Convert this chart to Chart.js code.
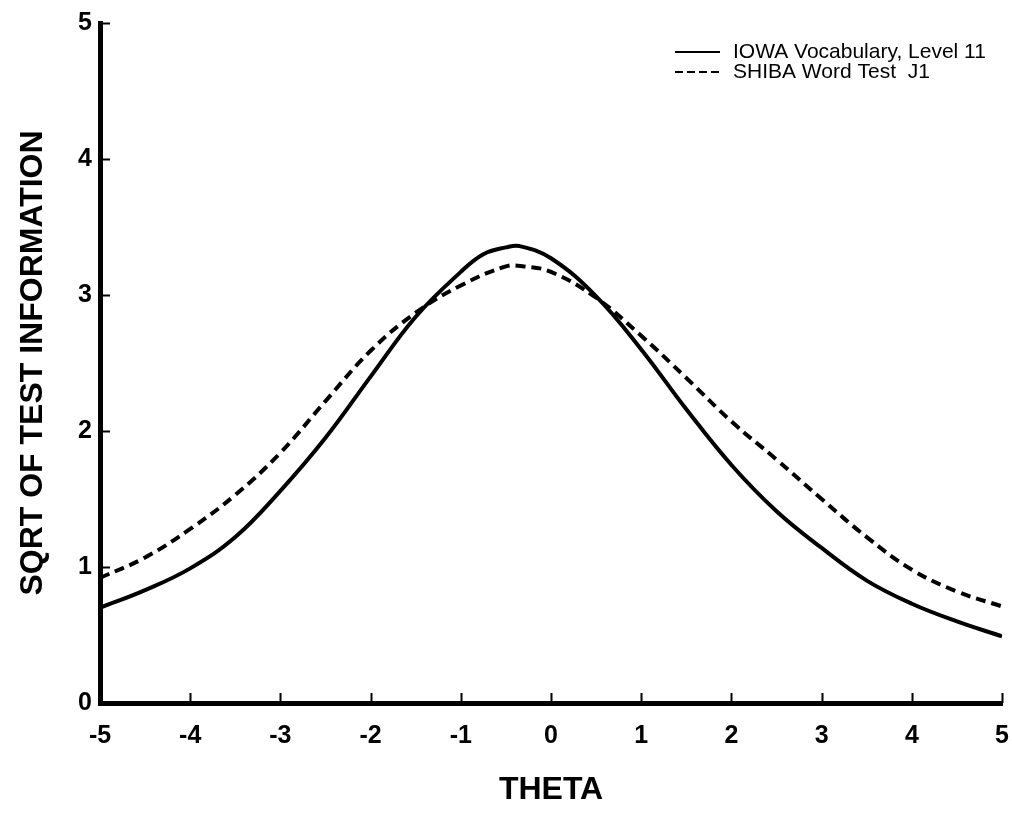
<!DOCTYPE html>
<html>
<head>
<meta charset="utf-8">
<title>Test information</title>
<script src="https://cdn.jsdelivr.net/npm/chart.js@4.4.1/dist/chart.umd.min.js"></script>
<style>
  html, body { margin: 0; padding: 0; background: #fff; }
  #wrap { width: 1012px; height: 815px; }
</style>
</head>
<body>
<div id="wrap"><canvas id="c" width="1012" height="815"></canvas></div>
<script>
// Ability scale (theta) values at which the curves are sampled
const thetaIowa = [-5, -4.5, -4, -3.5, -3, -2.5, -2, -1.5, -1, -0.75, -0.5, -0.35, 0, 0.5, 1, 1.5, 2, 2.5, 3, 3.5, 4, 4.5, 5];
const iowaInfo  = [0.70, 0.83, 0.99, 1.22, 1.56, 1.95, 2.40, 2.84, 3.17, 3.30, 3.35, 3.36, 3.27, 2.99, 2.60, 2.16, 1.75, 1.41, 1.14, 0.90, 0.73, 0.60, 0.49];

const thetaShiba = [-5, -4.5, -4, -3.5, -3, -2.5, -2, -1.5, -1, -0.5, -0.3, 0, 0.5, 1, 1.5, 2, 2.5, 3, 3.5, 4, 4.5, 5];
const shibaInfo  = [0.92, 1.07, 1.28, 1.53, 1.84, 2.22, 2.59, 2.87, 3.07, 3.21, 3.21, 3.17, 2.98, 2.70, 2.39, 2.07, 1.79, 1.50, 1.22, 0.98, 0.82, 0.71];

// Axis ranges and tick values
const xTicks = [-5, -4, -3, -2, -1, 0, 1, 2, 3, 4, 5];
const yTicks = [0, 1, 2, 3, 4, 5];

const seriesNames = ['IOWA Vocabulary, Level 11', 'SHIBA Word Test  J1'];
const xTitle = 'THETA';
const yTitle = 'SQRT OF TEST INFORMATION';

const toPoints = (xs, ys) => xs.map((x, i) => ({ x: x, y: ys[i] }));

// Short tick marks pointing into the plot from both axes
const innerTicks = {
  id: 'innerTicks',
  afterDatasetsDraw(chart) {
    const { ctx, chartArea, scales } = chart;
    ctx.save();
    ctx.strokeStyle = '#000';
    ctx.lineWidth = 2;
    ctx.beginPath();
    xTicks.forEach(v => {
      if (v === xTicks[0]) return;
      const px = Math.round(scales.x.getPixelForValue(v)) + 0.5;
      ctx.moveTo(px, chartArea.bottom);
      ctx.lineTo(px, chartArea.bottom - 10);
    });
    yTicks.forEach(v => {
      if (v === yTicks[0]) return;
      const py = Math.round(scales.y.getPixelForValue(v)) + 0.5;
      ctx.moveTo(chartArea.left, py);
      ctx.lineTo(chartArea.left + 10, py);
    });
    ctx.stroke();
    ctx.restore();
  }
};

// Legend in the upper right corner with line samples
const cornerLegend = {
  id: 'cornerLegend',
  afterDraw(chart) {
    const { ctx } = chart;
    const x0 = 675, x1 = 720, tx = 733;
    const rows = [52, 72];
    ctx.save();
    ctx.fillStyle = '#000';
    ctx.strokeStyle = '#000';
    ctx.font = '21px "Liberation Sans", Arial, sans-serif';
    ctx.textBaseline = 'middle';
    chart.data.datasets.forEach((ds, i) => {
      const y = rows[i];
      ctx.lineWidth = 2;
      ctx.setLineDash(ds.borderDash && ds.borderDash.length ? [8, 4] : []);
      ctx.beginPath();
      ctx.moveTo(x0, y);
      ctx.lineTo(x1, y);
      ctx.stroke();
      ctx.fillText(ds.label, tx, y);
    });
    ctx.restore();
  }
};

new Chart(document.getElementById('c'), {
  type: 'line',
  data: {
    datasets: [
      {
        label: seriesNames[0],
        data: toPoints(thetaIowa, iowaInfo),
        borderColor: '#000',
        borderWidth: 4,
        pointRadius: 0,
        fill: false,
        tension: 0.4
      },
      {
        label: seriesNames[1],
        data: toPoints(thetaShiba, shibaInfo),
        borderColor: '#000',
        borderWidth: 4,
        borderDash: [10, 6],
        pointRadius: 0,
        fill: false,
        tension: 0.4
      }
    ]
  },
  options: {
    responsive: false,
    animation: false,
    devicePixelRatio: 1,
    layout: { padding: { top: 23, right: 0, left: 0, bottom: 0 } },
    plugins: {
      legend: { display: false },
      tooltip: { enabled: false }
    },
    scales: {
      x: {
        type: 'linear',
        min: xTicks[0],
        max: xTicks[xTicks.length - 1],
        afterBuildTicks(scale) { scale.ticks = xTicks.map(v => ({ value: v })); },
        afterFit(scale) { scale.height = 112; },
        grid: { display: false, drawTicks: true, tickLength: 15 },
        border: { display: true, color: '#000', width: 5 },
        ticks: {
          color: '#000',
          padding: 3,
          maxRotation: 0,
          font: { family: '"Liberation Sans", Arial, sans-serif', size: 25, weight: 'bold' }
        },
        title: {
          display: true,
          text: xTitle,
          color: '#000',
          padding: { top: 0, bottom: 6 },
          font: { family: '"Liberation Sans", Arial, sans-serif', size: 32, weight: 'bold' }
        }
      },
      y: {
        type: 'linear',
        min: yTicks[0],
        max: yTicks[yTicks.length - 1],
        afterBuildTicks(scale) { scale.ticks = yTicks.map(v => ({ value: v })); },
        afterFit(scale) { scale.width = 100; },
        grid: { display: false, drawTicks: false },
        border: { display: true, color: '#000', width: 5 },
        ticks: {
          color: '#000',
          padding: 8,
          font: { family: '"Liberation Sans", Arial, sans-serif', size: 25, weight: 'bold' }
        },
        title: {
          display: true,
          text: yTitle,
          color: '#000',
          padding: { top: 14, bottom: 0 },
          font: { family: '"Liberation Sans", Arial, sans-serif', size: 32, weight: 'bold' }
        }
      }
    }
  },
  plugins: [innerTicks, cornerLegend]
});
</script>
</body>
</html>
